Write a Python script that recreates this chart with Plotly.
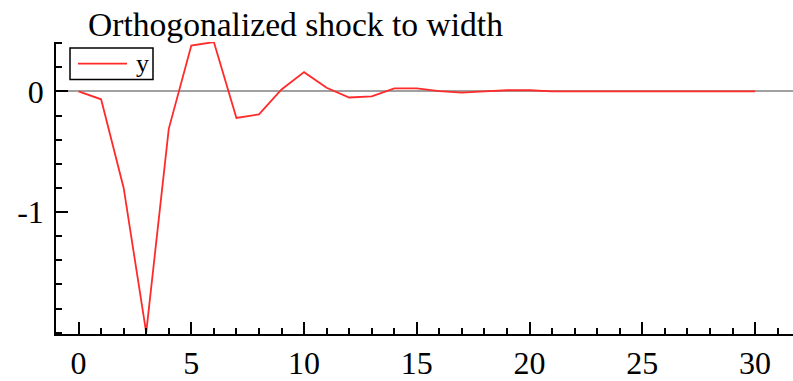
import plotly.graph_objects as go

periods = list(range(31))
response = [0.0, -0.065, -0.80, -2.0, -0.31, 0.38, 0.41, -0.22, -0.19, 0.016,
            0.16, 0.03, -0.05, -0.04, 0.025, 0.025, 0.003, -0.01, 0.0, 0.01,
            0.01, 0.0, 0.0, 0.0, 0.0, 0.0, 0.0, 0.0, 0.0, 0.0, 0.0]
series_name = "y"
title_text = "Orthogonalized shock to width"
y_tick_vals = [-1, 0]
y_tick_text = ["-1", "0"]

FONT = "Liberation Serif"
LINE_COLOR = "#ff2a2a"

# pixel -> paper helpers for the hand-drawn legend box
PL, PR, PT, PB = 56, 793, 42, 338
def px(x):
    return (x - PL) / (PR - PL)
def py(y):
    return (PB - y) / (PB - PT)

fig = go.Figure()
fig.add_trace(go.Scatter(
    x=periods, y=response, mode="lines", name=series_name,
    line=dict(color=LINE_COLOR, width=1.8), showlegend=False,
))

# legend (box, sample line, label)
fig.add_shape(type="rect", xref="paper", yref="paper",
              x0=px(70), x1=px(153), y0=py(80), y1=py(48),
              line=dict(color="black", width=1.5), fillcolor="rgba(0,0,0,0)")
fig.add_shape(type="line", xref="paper", yref="paper",
              x0=px(78), x1=px(127), y0=py(64), y1=py(64),
              line=dict(color=LINE_COLOR, width=1.8))
fig.add_annotation(text=series_name, xref="paper", yref="paper",
                   x=px(134), y=py(64), xanchor="left", yanchor="middle",
                   showarrow=False, font=dict(family=FONT, size=26, color="black"))

fig.update_layout(
    width=793, height=381,
    margin=dict(l=PL, r=793 - PR, t=PT, b=381 - PB),
    paper_bgcolor="white", plot_bgcolor="white",
    font=dict(family=FONT, size=32, color="black"),
    title=dict(text=title_text, font=dict(family=FONT, size=33.6, color="black"),
               x=88 / 793, xref="container", xanchor="left",
               y=1 - 24 / 381, yref="container", yanchor="middle"),
    showlegend=False,
)

fig.update_xaxes(
    range=[-1.0, 31.68], showgrid=False, zeroline=False,
    showline=True, linecolor="black", linewidth=1.5,
    tickmode="linear", tick0=0, dtick=5,
    ticks="inside", ticklen=12, tickwidth=1.5, tickcolor="black",
    minor=dict(ticks="inside", ticklen=6, tickwidth=1.5, tickcolor="black",
               tick0=0, dtick=1, showgrid=False),
    tickfont=dict(family=FONT, size=32, color="black"),
    fixedrange=True,
)

fig.update_yaxes(
    range=[-2.011, 0.41], showgrid=False,
    zeroline=True, zerolinecolor="#a0a0a0", zerolinewidth=1.5,
    showline=True, linecolor="black", linewidth=1.5,
    tickmode="array", tickvals=y_tick_vals, ticktext=y_tick_text,
    ticks="inside", ticklen=12, tickwidth=1.5, tickcolor="black",
    ticklabelstandoff=4,
    minor=dict(ticks="inside", ticklen=6, tickwidth=1.5, tickcolor="black",
               tick0=0, dtick=0.2, showgrid=False),
    tickfont=dict(family=FONT, size=32, color="black"),
    fixedrange=True,
)

fig.write_html("out.html")
